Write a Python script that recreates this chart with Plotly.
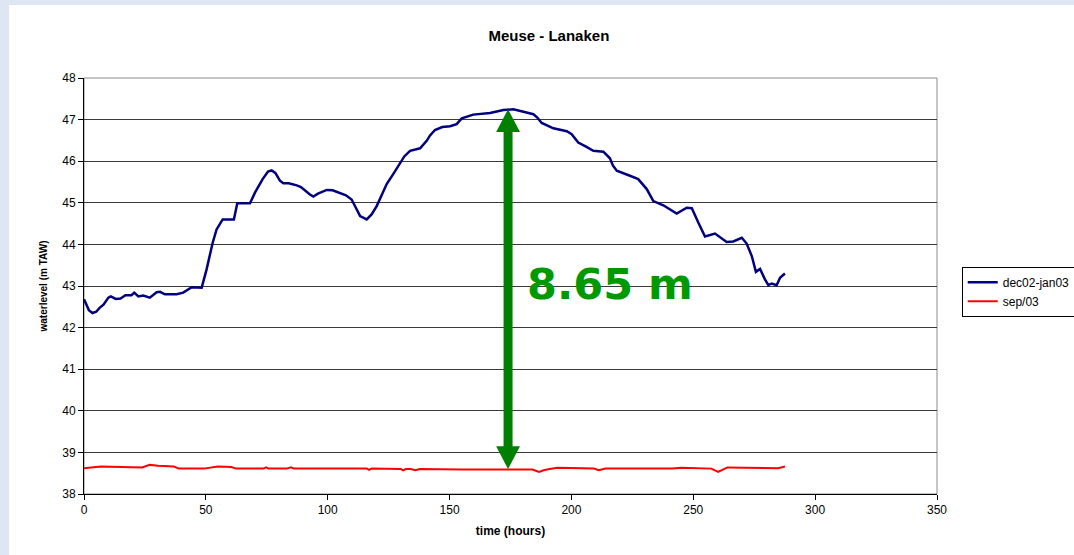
import plotly.graph_objects as go

# ---- data ----
blue_name = "dec02-jan03"
blue_t = [0, 1, 2, 3.5, 5, 6.5, 8, 10, 11, 13, 15, 17, 19.5, 20.6, 22.3, 24.3, 27, 29.8, 31.2, 33.2,
          38, 40.7, 44.2, 48.3, 50.3, 52.8, 54.4, 56.9, 61.5, 62.9, 68.1, 70.2, 73.3, 75.5, 77, 78.5,
          80.4, 81.8, 84, 87.3, 89, 92.7, 94.1, 96, 99.6, 102, 105, 107.5, 109.8, 111.5, 113.3, 116,
          118, 120.1, 122, 124.2, 127, 129.7, 131.5, 133.8, 137.9, 140.6, 142, 144, 147, 150.2, 152.9,
          155, 159.7, 166.6, 172.1, 176.2, 180, 184.4, 186, 187.8, 192.6, 198.1, 200.1, 202.8, 206,
          209, 213.1, 215.8, 217, 218.6, 224, 227.4, 230.9, 233.6, 237.7, 243.2, 247.3, 249.4, 252.1,
          254.8, 258.9, 263.7, 266.4, 269.9, 271.9, 274, 275.7, 277.4, 279.4, 280.8, 282.2, 284.2,
          285.6, 287.6]
blue_h = [42.68, 42.55, 42.42, 42.35, 42.38, 42.48, 42.55, 42.72, 42.75, 42.69, 42.70, 42.78, 42.78,
          42.84, 42.75, 42.77, 42.72, 42.85, 42.86, 42.80, 42.80, 42.84, 42.97, 42.96, 43.40, 44.04,
          44.36, 44.60, 44.60, 44.99, 44.99, 45.25, 45.57, 45.75, 45.78, 45.72, 45.53, 45.47, 45.47,
          45.42, 45.38, 45.20, 45.15, 45.22, 45.31, 45.30, 45.23, 45.18, 45.08, 44.90, 44.68, 44.60,
          44.72, 44.92, 45.15, 45.45, 45.70, 45.97, 46.12, 46.25, 46.31, 46.49, 46.62, 46.75, 46.82,
          46.84, 46.89, 47.03, 47.12, 47.16, 47.23, 47.25, 47.20, 47.13, 47.05, 46.92, 46.79, 46.72,
          46.65, 46.45, 46.35, 46.25, 46.23, 46.07, 45.90, 45.77, 45.65, 45.57, 45.33, 45.04, 44.94,
          44.74, 44.88, 44.87, 44.52, 44.19, 44.26, 44.06, 44.07, 44.16, 44.02, 43.72, 43.34, 43.41,
          43.16, 43.02, 43.06, 43.02, 43.20, 43.30]

red_name = "sep/03"
red_t = [0, 6.9, 23.8, 27, 30.4, 36.9, 38.9, 49.2, 54.9, 60.5, 62.4, 73.7, 74.7, 75.7, 83, 85, 86,
         116, 117, 118, 130, 131, 132, 134, 136, 137.8, 154.7, 164, 184, 186.7, 188.6, 191, 194.3,
         209.3, 211.2, 214, 241.3, 245.2, 257.4, 260.2, 264, 284.8, 287.6]
red_h = [38.62, 38.66, 38.64, 38.70, 38.68, 38.66, 38.61, 38.61, 38.66, 38.65, 38.61, 38.61, 38.64,
         38.61, 38.61, 38.64, 38.61, 38.61, 38.58, 38.61, 38.60, 38.57, 38.60, 38.60, 38.57, 38.60,
         38.59, 38.59, 38.59, 38.53, 38.57, 38.60, 38.63, 38.61, 38.57, 38.61, 38.61, 38.63, 38.61,
         38.53, 38.64, 38.62, 38.66]

x_ticks = [0, 50, 100, 150, 200, 250, 300, 350]
y_ticks = [38, 39, 40, 41, 42, 43, 44, 45, 46, 47, 48]

title_text = "Meuse - Lanaken"
x_title = "time (hours)"
y_title = "waterlevel (m TAW)"
diff_label = "8.65 m"

# annotation arrow (data coords)
ARROW_X = 174
ARROW_TOP = 47.25
ARROW_BOTTOM = 38.60
HEAD_H = 0.55   # metres
HEAD_HW = 4.9   # hours
LABEL_X = 216
LABEL_Y = 43.05

GREEN = "#008000"

fig = go.Figure()
fig.add_trace(go.Scatter(x=blue_t, y=blue_h, mode="lines", name=blue_name,
                         line=dict(color="#000080", width=2.5)))
fig.add_trace(go.Scatter(x=red_t, y=red_h, mode="lines", name=red_name,
                         line=dict(color="#ff0000", width=2)))

# arrow shaft
fig.add_shape(type="line", xref="x", yref="y", x0=ARROW_X, x1=ARROW_X,
              y0=ARROW_BOTTOM + HEAD_H * 0.9, y1=ARROW_TOP - HEAD_H * 0.9,
              line=dict(color=GREEN, width=9))
# arrow heads
up = f"M {ARROW_X - HEAD_HW},{ARROW_TOP - HEAD_H} L {ARROW_X + HEAD_HW},{ARROW_TOP - HEAD_H} L {ARROW_X},{ARROW_TOP} Z"
dn = f"M {ARROW_X - HEAD_HW},{ARROW_BOTTOM + HEAD_H} L {ARROW_X + HEAD_HW},{ARROW_BOTTOM + HEAD_H} L {ARROW_X},{ARROW_BOTTOM} Z"
for p in (up, dn):
    fig.add_shape(type="path", xref="x", yref="y", path=p,
                  fillcolor=GREEN, line=dict(color=GREEN, width=0))

fig.add_annotation(x=LABEL_X, y=LABEL_Y, xref="x", yref="y", text=f"<b>{diff_label}</b>",
                   showarrow=False, font=dict(family="DejaVu Sans", size=43, color="#009a00"))

# background band (light blue frame at left/top)
fig.add_shape(type="rect", xref="paper", yref="paper", x0=-0.0985, x1=-0.0879, y0=-0.2, y1=1.2,
              fillcolor="#dfe6f3", line=dict(width=0), layer="below")
fig.add_shape(type="rect", xref="paper", yref="paper", x0=-0.0985, x1=1.2, y0=1.1755, y1=1.2,
              fillcolor="#dfe6f3", line=dict(width=0), layer="below")
# plot frame (top/right grey)
fig.add_shape(type="rect", xref="paper", yref="paper", x0=0, x1=1, y0=0, y1=1,
              line=dict(color="#8a8a8a", width=1), layer="below")

fig.update_layout(
    width=1074, height=555,
    margin=dict(l=84, r=137, t=78, b=61, autoexpand=False),
    paper_bgcolor="white", plot_bgcolor="white",
    font=dict(family="Liberation Sans, Arial", color="black"),
    title=dict(text=f"<b>{title_text}</b>", x=0.545, xref="paper", xanchor="center",
               y=0.935, yanchor="middle", font=dict(size=15, color="black")),
    showlegend=True,
    legend=dict(x=1.029, y=0.546, xanchor="left", yanchor="top",
                bordercolor="black", borderwidth=1, bgcolor="white",
                font=dict(size=12), tracegroupgap=0, itemwidth=30),
    xaxis=dict(range=[0, 350], tickvals=x_ticks, ticks="outside", ticklen=5, tickcolor="black",
               showgrid=False, zeroline=False, showline=True, linecolor="black", linewidth=1,
               tickfont=dict(size=12),
               title=dict(text=f"<b>{x_title}</b>", font=dict(size=12), standoff=10)),
    yaxis=dict(range=[38, 48], tickvals=y_ticks, ticks="outside", ticklen=5, tickcolor="black",
               showgrid=True, gridcolor="#3a3a3a", gridwidth=1, zeroline=False,
               showline=True, linecolor="black", linewidth=1, tickfont=dict(size=12),
               title=dict(text=f"<b>{y_title}</b>", font=dict(size=10), standoff=12)),
)

fig.write_html("out.html", config={"displayModeBar": False},
               post_script="document.body.style.margin='0';")
